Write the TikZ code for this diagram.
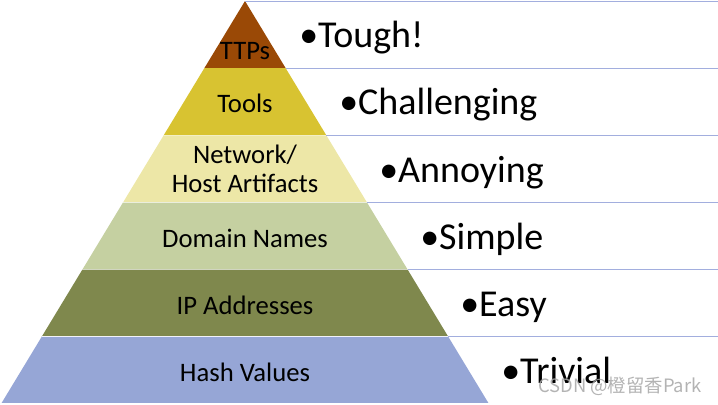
\documentclass[tikz,border=0pt]{standalone}
\usepackage{fontspec}
\setmainfont{Carlito}
\newfontfamily\markfont{Noto Sans CJK SC}
\usepackage{xcolor}
\usepackage{tikz}
\usetikzlibrary{calc}
\definecolor{CafeTTP}{RGB}{154,73,6}
\definecolor{AmarilloTools}{RGB}{216,195,49}
\definecolor{CremaRed}{RGB}{237,231,167}
\definecolor{VerdeDominio}{RGB}{197,208,161}
\definecolor{OlivaIP}{RGB}{127,136,77}
\definecolor{AzulHash}{RGB}{150,166,214}
\definecolor{AzulLinea}{RGB}{162,174,222}
\tikzset{
  capa/.style={draw=white,line width=0.9pt},
  rotulo/.style={font=\fontsize{20}{22}\selectfont,align=center,inner sep=0pt},
  nivel/.style={font=\fontsize{28.5}{30}\selectfont,anchor=base west,inner sep=0pt}
}

\begin{document}
\begin{tikzpicture}[x=0.75pt,y=-0.75pt]
  \useasboundingbox (0,0) rectangle (718,404);
  \foreach \k/\col in {0/CafeTTP,1/AmarilloTools,2/CremaRed,3/VerdeDominio,4/OlivaIP,5/AzulHash}{
    \pgfmathsetmacro\ya{1+67.17*\k}
    \pgfmathsetmacro\yb{1+67.17*(\k+1)}
    \pgfmathsetmacro\wa{0.6055*(\ya-1)}
    \pgfmathsetmacro\wb{0.6055*(\yb-1)}
    \fill[\col] (245-\wa,\ya) -- (245+\wa,\ya) -- (245+\wb,\yb) -- (245-\wb,\yb) -- cycle;
    \draw[capa] (245-\wb,\yb) -- (245+\wb,\yb);
    \draw[AzulLinea,line width=0.7pt] (245+\wa,\ya) -- (718,\ya);
  }
  \node[rotulo] (ttps) at (245,51) {TTPs};
  \node[rotulo] (tools) at (245,103) {Tools};
  \node[rotulo] (artefactos) at (245,169) {Network/\\Host Artifacts};
  \node[rotulo] (dominios) at (245,238) {Domain Names};
  \node[rotulo] (ips) at (245,305) {IP Addresses};
  \node[rotulo] (hashes) at (245,372) {Hash Values};
  \node[nivel] (tough) at (299,47) {•Tough!};
  \node[nivel] (challenging) at (339,114) {•Challenging};
  \node[nivel] (annoying) at (379,182) {•Annoying};
  \node[nivel] (simple) at (420,249) {•Simple};
  \node[nivel] (easy) at (460,316) {•Easy};
  \node[nivel] (trivial) at (501,383) {•Trivial};
  \node[anchor=base west,inner sep=0pt,text=gray!70,opacity=0.85,font=\markfont\fontsize{13.8}{15}\selectfont] (marca) at (538,392) {CSDN @橙留香Park};
\end{tikzpicture}
\end{document}
